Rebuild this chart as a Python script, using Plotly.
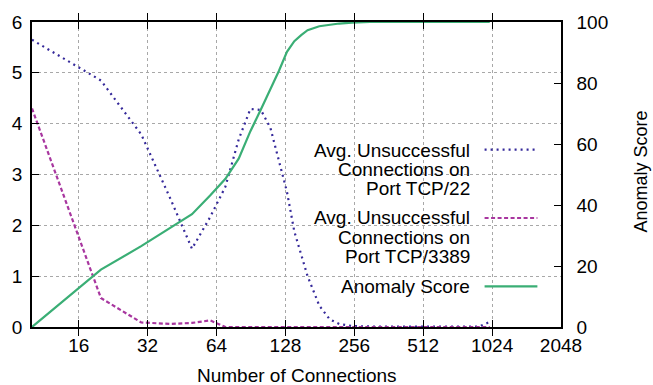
import math
import plotly.graph_objects as go

# Measurements per number of connections
connections = [10, 20, 30, 40, 50, 60, 70, 80, 90, 100, 110, 120, 130, 140, 150,
               160, 180, 200, 220, 250, 300, 400, 500, 600, 700, 800, 900, 1000]
tcp22 = [5.65, 4.85, 3.79, 2.55, 1.54, 2.16, 2.76, 3.69, 4.29, 4.27, 3.92, 3.26, 2.66, 1.88,
         1.44, 1.00, 0.42, 0.15, 0.06, 0.02, 0.01, 0.01, 0.01, 0.01, 0.01, 0.01, 0.01, 0.10]
tcp3389 = [4.30, 0.57, 0.09, 0.06, 0.08, 0.13, 0.00, 0.00, 0.00, 0.00, 0.00, 0.00, 0.00, 0.00,
           0.00, 0.00, 0.00, 0.00, 0.00, 0.00, 0.00, 0.00, 0.00, 0.00, 0.00, 0.00, 0.00, 0.00]
anomaly = [0.0, 18.8, 26.5, 32.3, 37.0, 43.1, 48.6, 55.2, 64.2, 71.3, 77.7, 84.0, 90.2, 93.7,
           95.7, 97.3, 98.6, 99.2, 99.5, 99.8, 100, 100, 100, 100, 100, 100, 100, 100]

x_ticks = [16, 32, 64, 128, 256, 512, 1024, 2048]
x_tick_labels = [str(v) for v in x_ticks]

series_names = ["Avg. Unsuccessful\nConnections on\nPort TCP/22",
                "Avg. Unsuccessful\nConnections on\nPort TCP/3389",
                "Anomaly Score"]

C_BLUE = "#35299a"
C_MAGENTA = "#a8369f"
C_GREEN = "#3aae75"
FONT = "Liberation Sans, Arial, Helvetica, sans-serif"

W, H = 653, 385
L, R, T, B = 30, 92, 15, 58
PW, PH = W - L - R, H - T - B


def fx(px):
    return (px - L) / PW


def fy(py):
    return (H - B - py) / PH


fig = go.Figure()
fig.add_trace(go.Scatter(x=connections, y=tcp22, mode="lines", yaxis="y",
                         line=dict(color=C_BLUE, width=2.2, dash="2px,4px")))
fig.add_trace(go.Scatter(x=connections, y=tcp3389, mode="lines", yaxis="y",
                         line=dict(color=C_MAGENTA, width=2.2, dash="4px,2.5px")))
fig.add_trace(go.Scatter(x=connections, y=anomaly, mode="lines", yaxis="y2",
                         line=dict(color=C_GREEN, width=2.2)))

axis_common = dict(showline=True, linecolor="black", linewidth=1.5,
                   ticks="inside", ticklen=7, tickwidth=1.2, tickcolor="black",
                   tickfont=dict(family=FONT, size=19, color="black"), zeroline=False)

fig.update_layout(
    width=W, height=H,
    margin=dict(l=L, r=R, t=T, b=B),
    paper_bgcolor="white", plot_bgcolor="white",
    showlegend=False,
    font=dict(family=FONT, size=19, color="black"),
    xaxis=dict(type="log", range=[1, math.log10(2048)],
               tickvals=x_ticks, ticktext=x_tick_labels, mirror="allticks",
               showgrid=True, gridcolor="#a8a8a8", griddash="dot", gridwidth=1,
               **axis_common),
    yaxis=dict(range=[0, 6], dtick=1, mirror=True, ticklabelstandoff=4,
               showgrid=True, gridcolor="#a8a8a8", griddash="dot", gridwidth=1,
               **axis_common),
    yaxis2=dict(range=[0, 100], dtick=20, overlaying="y", side="right",
                ticklabelstandoff=10, showgrid=False, **axis_common),
)

# key background hides the grid behind the key entries
fig.add_shape(type="rect", xref="paper", yref="paper", layer="between",
              x0=fx(271), x1=fx(549), y0=0, y1=fy(110),
              fillcolor="white", line=dict(width=0))

# key: right-aligned labels with line samples to their right
text_right = 471.7
sample_x0, sample_x1 = 484.3, 537.3
entry_rows = [[146.8, 165.8, 185.5], [215.2, 235.2, 255.2], [285.2]]
sample_rows = [145.5, 215.5, 285.5]
sample_styles = [dict(color=C_BLUE, width=2.2, dash="2px,4px"),
                 dict(color=C_MAGENTA, width=2.2, dash="4px,2.5px"),
                 dict(color=C_GREEN, width=2.2)]
for name, rows, sy, style in zip(series_names, entry_rows, sample_rows, sample_styles):
    for line_text, py in zip(name.split("\n"), rows):
        fig.add_annotation(xref="paper", yref="paper", x=fx(text_right), y=fy(py),
                           text=line_text, showarrow=False, xanchor="right",
                           yanchor="middle", font=dict(size=19))
    fig.add_shape(type="line", xref="paper", yref="paper", layer="above",
                  x0=fx(sample_x0), x1=fx(sample_x1), y0=fy(sy), y1=fy(sy), line=style)

# axis titles
fig.add_annotation(xref="paper", yref="paper", x=fx(295.5), y=fy(377),
                   text="Number of Connections", showarrow=False,
                   xanchor="center", yanchor="middle", font=dict(size=19))
fig.add_annotation(xref="paper", yref="paper", x=fx(641.7), y=fy(167.5),
                   text="Anomaly Score", showarrow=False, textangle=-90,
                   xanchor="center", yanchor="middle", font=dict(size=18))

fig.write_html("out.html")
